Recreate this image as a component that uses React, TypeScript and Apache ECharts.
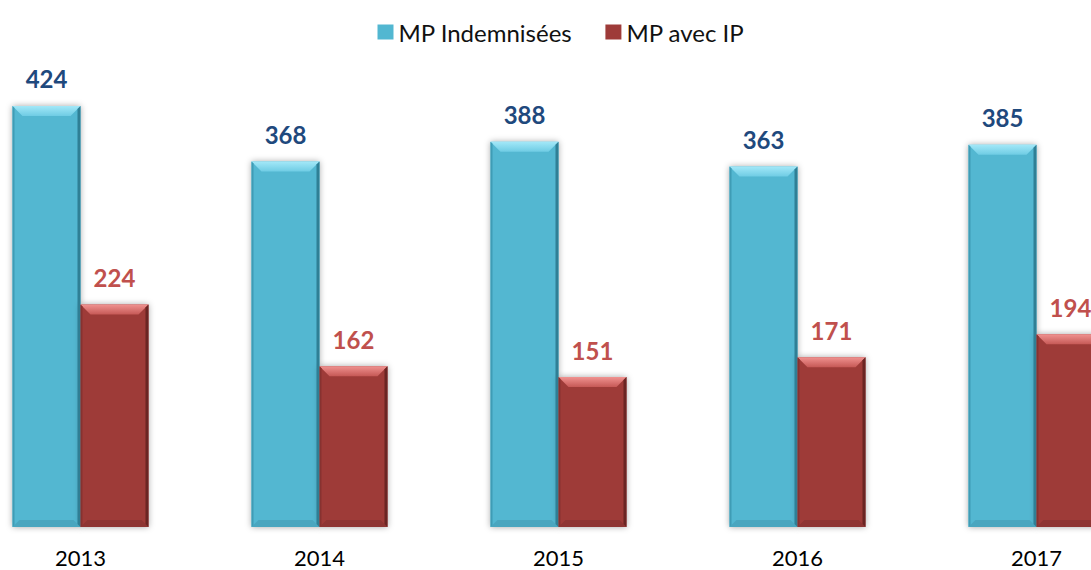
import React, { useEffect, useRef } from "react";
import * as echarts from "echarts";

const years = ["2013", "2014", "2015", "2016", "2017"];
const mpIndemnisees = [424, 368, 388, 363, 385];
const mpAvecIP = [224, 162, 151, 171, 194];
const seriesNames = ["MP Indemnisées", "MP avec IP"];

const BAR_FRAC = 0.2845;
const OFFSET_X = -39.5;
const CHART_W = 1195;

const palettes = [
  { fill: "#52B7D1", top0: "#A3E8F8", top1: "#6FCCE4", edgeL: "#3F9CB5", edgeR: "#2F7F95", bottom: "#4AA6BF", label: "#1F497D" },
  { fill: "#9E3B39", top0: "#F09290", top1: "#C65956", edgeL: "#873230", edgeR: "#6A2523", bottom: "#8E3533", label: "#C0504D" },
];

function bevel(si: number) {
  return (params: any, api: any) => {
    const idx = api.value(0);
    const v = api.value(1);
    const base = api.coord([idx, 0]);
    const top = api.coord([idx, v]);
    const band = api.size([1, 0])[0];
    const w = band * BAR_FRAC;
    const x0 = si === 0 ? base[0] - w : base[0];
    const x1 = x0 + w;
    const y0 = top[1];
    const yb = base[1];
    const d = 10;
    const db = 7;
    const p = palettes[si];
    return {
      type: "group",
      children: [
        {
          type: "polygon",
          shape: { points: [[x0, y0], [x1, y0], [x1 - d, y0 + d], [x0 + d, y0 + d]] },
          style: {
            fill: new echarts.graphic.LinearGradient(0, 0, 0, 1, [
              { offset: 0, color: p.top0 },
              { offset: 1, color: p.top1 },
            ]),
          },
        },
        {
          type: "polygon",
          shape: { points: [[x0, yb], [x1, yb], [x1 - db, yb - db], [x0 + db, yb - db]] },
          style: { fill: p.bottom },
        },
        {
          type: "polygon",
          shape: { points: [[x0, y0], [x0 + 2, y0 + 2], [x0 + 2, yb - 2], [x0, yb]] },
          style: { fill: p.edgeL },
        },
        {
          type: "polygon",
          shape: { points: [[x1, y0], [x1 - 3, y0 + 3], [x1 - 3, yb - 3], [x1, yb]] },
          style: { fill: p.edgeR },
        },
      ],
    };
  };
}

export default function App() {
  const ref = useRef<HTMLDivElement>(null);
  useEffect(() => {
    document.body.style.margin = "0";
    document.body.style.overflow = "hidden";
    const chart = echarts.init(ref.current!, null, { renderer: "svg" });
    const valueSets = [mpIndemnisees, mpAvecIP];
    chart.setOption({
      animation: false,
      backgroundColor: "#ffffff",
      legend: {
        data: seriesNames,
        left: 372 - OFFSET_X,
        top: 15,
        itemWidth: 16,
        itemHeight: 15,
        itemGap: 33,
        textStyle: { fontFamily: "Lato", fontSize: 24, color: "#111111", lineHeight: 22 },
        icon: "rect",
      },
      grid: { left: 0, right: 0, top: 30.5, bottom: 43, containLabel: false },
      xAxis: {
        type: "category",
        data: years,
        axisLine: { show: false },
        axisTick: { show: false },
        axisLabel: { fontFamily: "Lato", fontSize: 22, color: "#000000", margin: 21, lineHeight: 18 },
      },
      yAxis: { type: "value", min: 0, max: 500, show: false },
      series: [
        ...valueSets.map((vals, si) => ({
          name: seriesNames[si],
          type: "bar",
          data: vals,
          barWidth: BAR_FRAC * 100 + "%",
          barGap: "0%",
          itemStyle: {
            color: palettes[si].fill,
            shadowColor: "rgba(0,0,0,0.35)",
            shadowBlur: 6,
          },
          label: {
            show: true,
            position: "top",
            distance: 15,
            fontFamily: "Lato",
            fontWeight: "bold",
            fontSize: 24,
            color: palettes[si].label,
          },
          z: 2,
        })),
        ...valueSets.map((vals, si) => ({
          type: "custom",
          silent: true,
          z: 3,
          renderItem: bevel(si),
          data: vals.map((v, i) => [i, v]),
        })),
      ],
    });
    return () => chart.dispose();
  }, []);
  return (
    <div style={{ position: "relative", width: 1091, height: 570, overflow: "hidden" }}>
      <div ref={ref} style={{ position: "absolute", left: OFFSET_X, top: 0, width: CHART_W, height: 570 }} />
    </div>
  );
}
